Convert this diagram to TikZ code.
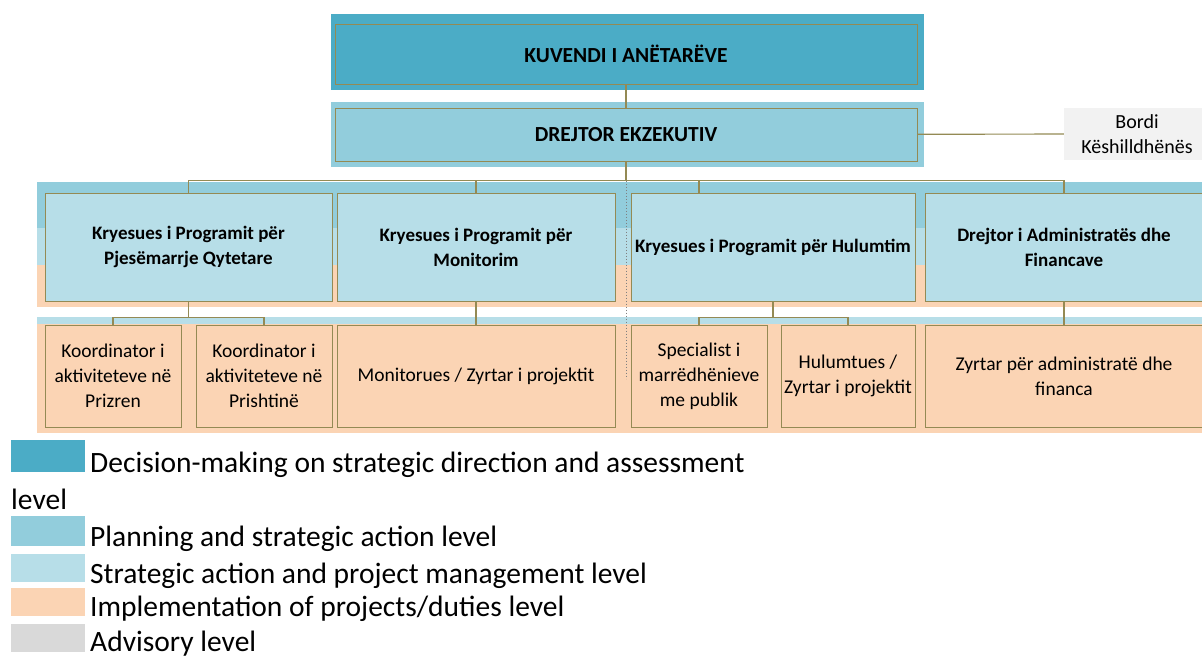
\documentclass[tikz,border=0pt]{standalone}
\usepackage{fontspec}
\setmainfont{Carlito}
\usetikzlibrary{positioning}
\usetikzlibrary{calc}

\definecolor{decision}{HTML}{4BACC6}
\definecolor{planning}{HTML}{92CDDC}
\definecolor{managing}{HTML}{B7DEE8}
\definecolor{implement}{HTML}{FBD4B4}
\definecolor{advisory}{HTML}{D9D9D9}
\definecolor{boardbg}{HTML}{F2F2F2}
\definecolor{olive}{HTML}{948A54}

\begin{document}
\begin{tikzpicture}[x=1pt, y=-1pt,
  conn/.style={draw=olive, line width=1.2pt},
  busline/.style={draw=olive, line width=1.8pt},
  headbox/.style={draw=olive, line width=1pt, minimum width=582pt, inner sep=0pt, font=\bfseries\fontsize{21.5}{24}\selectfont},
  leadbox/.style={draw=olive, line width=1pt, fill=managing, minimum height=108pt, inner sep=0pt, align=center, font=\bfseries\fontsize{19}{25}\selectfont},
  staffbox/.style={draw=olive, line width=1pt, fill=implement, minimum height=102pt, inner sep=0pt, align=center, font=\fontsize{19.5}{25}\selectfont},
  swatch/.style={minimum width=74pt, inner sep=0pt, anchor=north west},
  legtext/.style={anchor=base west, inner sep=0pt, font=\fontsize{29.5}{32}\selectfont}]

  \useasboundingbox (0,0) rectangle (1202,656);

  \fill[decision] (331,14) rectangle (924,90);
  \fill[planning] (331,102) rectangle (924,167);
  \fill[planning] (37,182) rectangle (1202,228);
  \fill[managing] (37,228) rectangle (1202,265);
  \fill[implement] (37,265) rectangle (1202,307);
  \fill[managing] (37,317) rectangle (1202,324);
  \fill[implement] (37,324) rectangle (1202,433);

  \node[headbox, fill=decision, minimum height=60pt] (kuv) at (626,54) {KUVENDI I ANËTARËVE};
  \node[headbox, fill=planning, minimum height=53pt] (dir) at (626,134.5) {DREJTOR EKZEKUTIV};
  \node[fill=boardbg, minimum width=138pt, minimum height=52pt, inner sep=0pt, align=center, font=\fontsize{20}{25}\selectfont] (bordi) at (1133,134) {\hspace*{8pt}Bordi\\\hspace*{8pt}Këshilldhënës};

  \node[leadbox, minimum width=287pt] (pjes) at (188.5,247) {Kryesues i Programit për\\Pjesëmarrje Qytetare};
  \node[leadbox, minimum width=278pt] (mon) at (476,247) {Kryesues i Programit për\\Monitorim};
  \node[leadbox, minimum width=284pt] (hul) at (773,247) {Kryesues i Programit për Hulumtim};
  \node[leadbox, minimum width=278pt] (adm) at (1064,247) {Drejtor i Administratës dhe\\Financave};

  \node[staffbox, minimum width=136pt] (prz) at (113,376) {Koordinator i\\aktiviteteve në\\Prizren};
  \node[staffbox, minimum width=136pt] (prn) at (264,376) {Koordinator i\\aktiviteteve në\\Prishtinë};
  \node[staffbox, minimum width=278pt] (monz) at (476,376) {Monitorues / Zyrtar i projektit};
  \node[staffbox, minimum width=136pt] (pub) at (699,376) {Specialist i\\marrëdhënieve\\me publik};
  \node[staffbox, minimum width=134pt] (hulz) at (848,376) {Hulumtues /\\Zyrtar i projektit};
  \node[staffbox, minimum width=278pt] (admz) at (1064,376) {Zyrtar për administratë dhe\\financa};

  \coordinate (bus) at ([yshift=-19pt]dir.south);
  \coordinate (subP) at ([yshift=-16pt]pjes.south);
  \coordinate (subH) at ([yshift=-16pt]hul.south);
  \coordinate (dotend) at ([yshift=-217pt]dir.south);

  \path[conn] (kuv) edge (dir);
  \path[conn] (dir) edge (bordi);
  \draw[busline] (dir.south) -- (bus);
  \draw[busline] (pjes.north) |- (bus) -| (adm.north);
  \draw[busline] (bus -| mon.north) -- (mon.north);
  \draw[busline] (bus -| pub.north) -- (hul.north -| pub.north);
  \draw[gray, dotted, line width=1pt] (bus) -- (dotend);

  \draw[conn] (pjes.south) -- (subP);
  \draw[conn] (prz.north) |- (subP) -| (prn.north);
  \path[conn] (mon) edge (monz);
  \draw[conn] (hul.south) -- (subH);
  \draw[conn] (pub.north) |- (subH) -| (hulz.north);
  \path[conn] (adm) edge (admz);

  \node[swatch, fill=decision, minimum height=32pt] (sw1) at (11,440) {};
  \node[legtext] (lg1) at (90,472) {Decision-making on strategic direction and assessment};
  \node[legtext] (lg1b) at (11,509) {level};
  \node[swatch, fill=planning, minimum height=30pt] (sw2) at (11,516) {};
  \node[legtext] (lg2) at (90,546) {Planning and strategic action level};
  \node[swatch, fill=managing, minimum height=28pt] (sw3) at (11,554) {};
  \node[legtext] (lg3) at (90,583) {Strategic action and project management level};
  \node[swatch, fill=implement, minimum height=28pt] (sw4) at (11,588) {};
  \node[legtext] (lg4) at (90,616) {Implementation of projects/duties level};
  \node[swatch, fill=advisory, minimum height=28pt] (sw5) at (11,624) {};
  \node[legtext] (lg5) at (90,651) {Advisory level};
\end{tikzpicture}
\end{document}
